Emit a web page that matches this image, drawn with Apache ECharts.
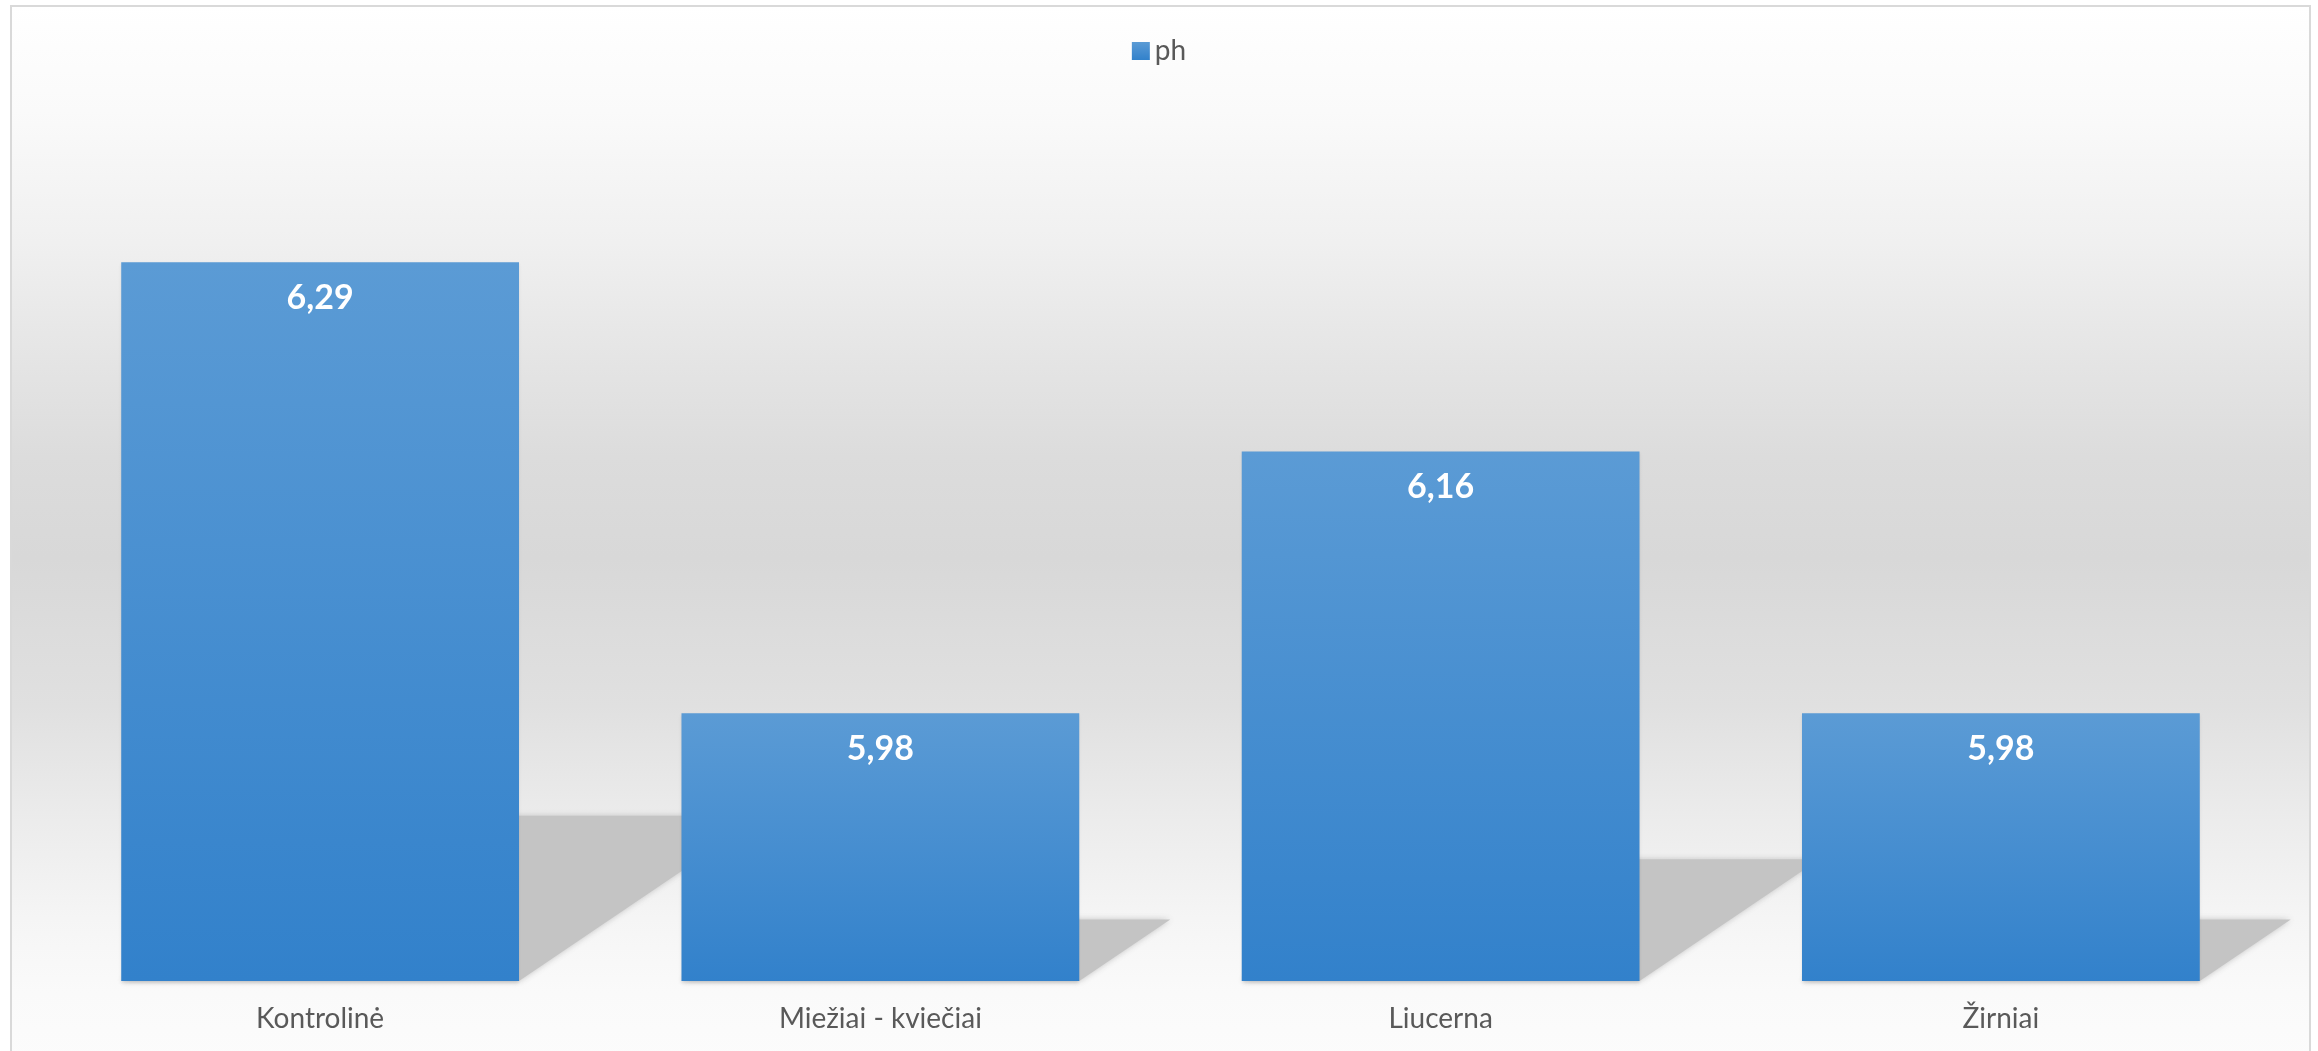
<!DOCTYPE html>
<html>
<head>
<meta charset="utf-8">
<title>ph</title>
<script src="https://cdn.jsdelivr.net/npm/echarts@6/dist/echarts.min.js"></script>
<style>
  html, body { margin: 0; padding: 0; background: #ffffff; }
  #chart { width: 2318px; height: 1051px; }
</style>
</head>
<body>
<div id="chart"></div>
<script>
// Soil pH by crop variant
const categories = ['Kontrolinė', 'Miežiai - kviečiai', 'Liucerna', 'Žirniai'];
const phValues = [6.29, 5.98, 6.16, 5.98];
const seriesName = 'ph';

const AXIS_MIN = 5.796;
const AXIS_MAX = 6.4016;
const BAR_SHARE = 0.71;

const textColor = '#595959';
const fontFamily = 'Lato, "Open Sans", "Liberation Sans", sans-serif';

const chart = echarts.init(document.getElementById('chart'));

// perspective floor shadow cast to the right of each bar
function renderShadow(params, api) {
  const idx = api.value(0);
  const v = api.value(1);
  const top = api.coord([idx, v]);
  const base = api.coord([idx, AXIS_MIN]);
  const bw = api.size([1, 0])[0] * BAR_SHARE;
  const xl = top[0] - bw / 2;
  const xr = top[0] + bw / 2;
  const h = base[1] - top[1];
  const sh = h * 0.23;
  const dx = h * 0.34;
  return {
    type: 'polygon',
    shape: {
      points: [
        [xl, base[1]],
        [xr, base[1]],
        [xr + dx, base[1] - sh],
        [xl + dx, base[1] - sh]
      ]
    },
    style: {
      fill: '#c4c4c4',
      shadowBlur: 6,
      shadowColor: 'rgba(190,190,190,0.9)'
    }
  };
}

const option = {
  animation: false,
  graphic: [{
    type: 'rect',
    z: -100,
    silent: true,
    shape: { x: 11, y: 6, width: 2299, height: 1060 },
    style: {
      fill: new echarts.graphic.LinearGradient(0, 0, 0, 1, [
        { offset: 0, color: '#ffffff' },
        { offset: 0.1, color: '#fafafa' },
        { offset: 0.224, color: '#f0f0f0' },
        { offset: 0.31, color: '#e7e7e7' },
        { offset: 0.425, color: '#dcdcdc' },
        { offset: 0.52, color: '#d8d8d8' },
        { offset: 0.66, color: '#e0e0e0' },
        { offset: 0.76, color: '#ebebeb' },
        { offset: 0.86, color: '#f5f5f5' },
        { offset: 0.93, color: '#fafafa' },
        { offset: 1, color: '#fcfcfc' }
      ]),
      stroke: '#d9d9d9',
      lineWidth: 2
    }
  }],
  legend: {
    data: [seriesName],
    top: 32,
    left: 'center',
    itemWidth: 18,
    itemHeight: 18,
    itemGap: 8,
    icon: 'rect',
    textStyle: { color: textColor, fontSize: 28, fontFamily: fontFamily }
  },
  grid: { left: 40, right: 37, top: 100, bottom: 70 },
  xAxis: {
    type: 'category',
    data: categories,
    axisLine: { show: false },
    axisTick: { show: false },
    axisLabel: { color: textColor, fontSize: 28, fontFamily: fontFamily, margin: 24 }
  },
  yAxis: {
    type: 'value',
    min: AXIS_MIN,
    max: AXIS_MAX,
    show: false,
    splitLine: { show: false }
  },
  series: [
    {
      type: 'custom',
      name: 'shadow',
      z: 1,
      clip: false,
      silent: true,
      renderItem: renderShadow,
      data: phValues.map((v, i) => [i, v])
    },
    {
      type: 'bar',
      name: seriesName,
      z: 3,
      barWidth: (BAR_SHARE * 100) + '%',
      data: phValues,
      itemStyle: {
        color: new echarts.graphic.LinearGradient(0, 0, 0, 1, [
          { offset: 0, color: '#5b9bd5' },
          { offset: 1, color: '#3281cb' }
        ]),
        shadowColor: 'rgba(0,0,0,0.12)',
        shadowBlur: 3,
        shadowOffsetY: 2
      },
      label: {
        show: true,
        position: 'insideTop',
        distance: 19,
        color: '#ffffff',
        fontSize: 34,
        fontWeight: 'bold',
        fontFamily: fontFamily,
        formatter: p => p.value.toFixed(2).replace('.', ',')
      }
    }
  ]
};

chart.setOption(option);
</script>
</body>
</html>
